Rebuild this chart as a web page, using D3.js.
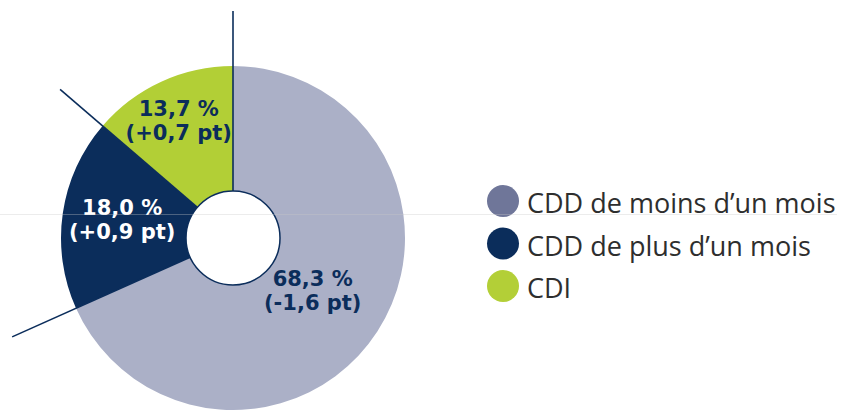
<!DOCTYPE html>
<html><head><meta charset="utf-8">
<script src="https://cdn.jsdelivr.net/npm/d3@7"></script>
<style>html,body{margin:0;padding:0;background:#fff;}svg{display:block;}</style>
</head><body>
<svg id="chart" width="841" height="414"></svg>
<script>
const categories = ["CDD de moins d’un mois", "CDD de plus d’un mois", "CDI"];
const values = [68.3, 18.0, 13.7];
const changes = ["-1,6", "+0,9", "+0,7"];
const sliceColors = ["#abb0c7", "#0b2d5b", "#b2cf36"];
const legendColors = ["#6f7699", "#0b2d5b", "#b3cf37"];
const labelColors = ["#0b2d5b", "#ffffff", "#0b2d5b"];

const svg = d3.select("#chart");
const cx = 233, cy = 238, rOuter = 172, rInner = 47;
const navy = "#0b2d5b";

const pie = d3.pie().sort(null).value(d => d)(values);
const arc = d3.arc().innerRadius(rInner).outerRadius(rOuter);
const g = svg.append("g").attr("transform", `translate(${cx},${cy})`);

g.selectAll("path.slice").data(pie).join("path")
  .attr("class", "slice")
  .attr("d", arc)
  .attr("fill", (d, i) => sliceColors[i]);

// boundary lines extended beyond the ring
const lineLen = [227, 242, 228];
g.selectAll("line.sep").data(pie).join("line")
  .attr("class", "sep")
  .attr("x1", d => rInner * Math.sin(d.startAngle))
  .attr("y1", d => -rInner * Math.cos(d.startAngle))
  .attr("x2", (d, i) => lineLen[i] * Math.sin(d.startAngle))
  .attr("y2", (d, i) => -lineLen[i] * Math.cos(d.startAngle))
  .attr("stroke", navy).attr("stroke-width", 1.6);

g.append("circle").attr("r", rInner).attr("fill", "#fff")
  .attr("stroke", navy).attr("stroke-width", 1.5);

// labels
const fmt = v => v.toFixed(1).replace(".", ",") + " %";
const labelR = [95, 112, 130];
const labelDy = [0, -3, 0];
const lbl = g.selectAll("text.lbl").data(pie).join("text")
  .attr("class", "lbl")
  .attr("text-anchor", "middle")
  .attr("font-family", "'DejaVu Sans', sans-serif")
  .attr("font-weight", "bold")
  .attr("font-size", 21)
  .attr("fill", (d, i) => labelColors[i])
  .attr("transform", (d, i) => {
    const c = d3.arc().innerRadius(labelR[i]).outerRadius(labelR[i]).centroid(d);
    return `translate(${c[0]},${c[1] + labelDy[i]})`;
  });
lbl.append("tspan").attr("x", 0).attr("y", -4).text((d, i) => fmt(values[i]));
lbl.append("tspan").attr("x", 0).attr("y", 20).text((d, i) => `(${changes[i]} pt)`);

// legend
const leg = svg.append("g").selectAll("g").data(categories).join("g")
  .attr("transform", (d, i) => `translate(503,${201 + i * 42.5})`);
leg.append("circle").attr("r", 16).attr("fill", (d, i) => legendColors[i]);
leg.append("text").attr("x", 24).attr("y", 12)
  .attr("font-family", "'Open Sans', sans-serif")
  .attr("font-size", 27)
  .attr("fill", "#2e2e2e")
  .text(d => d);

// faint horizontal rule
svg.append("line").attr("x1", 0).attr("x2", 837).attr("y1", 214.5).attr("y2", 214.5)
  .attr("stroke", "#c8c8c8").attr("stroke-opacity", 0.35).attr("stroke-width", 1);
</script>
</body></html>
